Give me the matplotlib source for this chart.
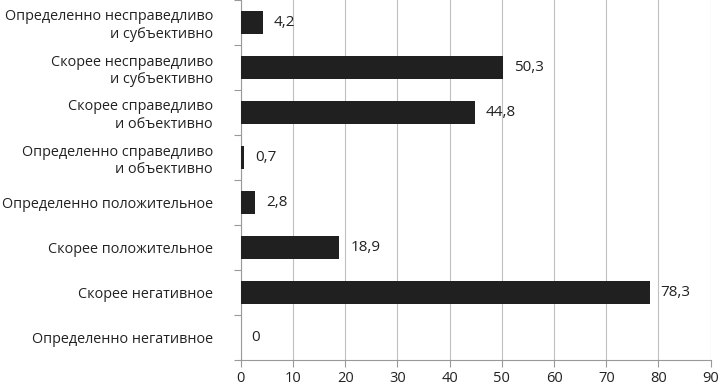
import matplotlib.pyplot as plt
import numpy as np

plt.rcParams['font.family'] = ['Open Sans', 'DejaVu Sans']

# categories from top to bottom
categories = ["Определенно несправедливо\nи субъективно",
              "Скорее несправедливо\nи субъективно",
              "Скорее справедливо\nи объективно",
              "Определенно справедливо\nи объективно",
              "Определенно положительное",
              "Скорее положительное",
              "Скорее негативное",
              "Определенно негативное"]
values = [4.2, 50.3, 44.8, 0.7, 2.8, 18.9, 78.3, 0]
xticks = [0, 10, 20, 30, 40, 50, 60, 70, 80, 90]

fig = plt.figure(figsize=(7.23, 3.89), dpi=100)
ax = fig.add_axes([240.7/723, 29/389, 470/723, 360/389])

y_pos = np.arange(len(categories))
ax.barh(y_pos, values, height=0.5, color='#202020', edgecolor='none', zorder=3)

for y, v in zip(y_pos, values):
    ax.text(v + 2.1, y, f"{v:g}".replace('.', ','), va='center', ha='left', fontsize=11, color='#222222')

ax.set_xlim(0, 90)
ax.set_ylim(len(categories) - 0.5, -0.5)
ax.set_xticks(xticks)
ax.set_xticklabels([str(t) for t in xticks], fontsize=10.5, color='#222222')
ax.set_yticks(y_pos)
ax.set_yticklabels(categories, fontsize=10.4, color='#222222', multialignment='right', linespacing=1.25)
ax.tick_params(axis='y', length=0, pad=20)
ax.set_yticks(np.arange(-0.5, len(categories), 1), minor=True)
ax.tick_params(axis='y', which='minor', length=5, color='#999999', width=0.8)
ax.tick_params(axis='x', length=5, color='#999999', width=0.8, pad=3)

ax.grid(axis='x', color='#c0c0c0', linewidth=0.8, zorder=0)
for s in ['top', 'right']:
    ax.spines[s].set_visible(False)
for s in ['left', 'bottom']:
    ax.spines[s].set_color('#999999')
    ax.spines[s].set_linewidth(0.8)

plt.savefig('out.png', dpi=100)
